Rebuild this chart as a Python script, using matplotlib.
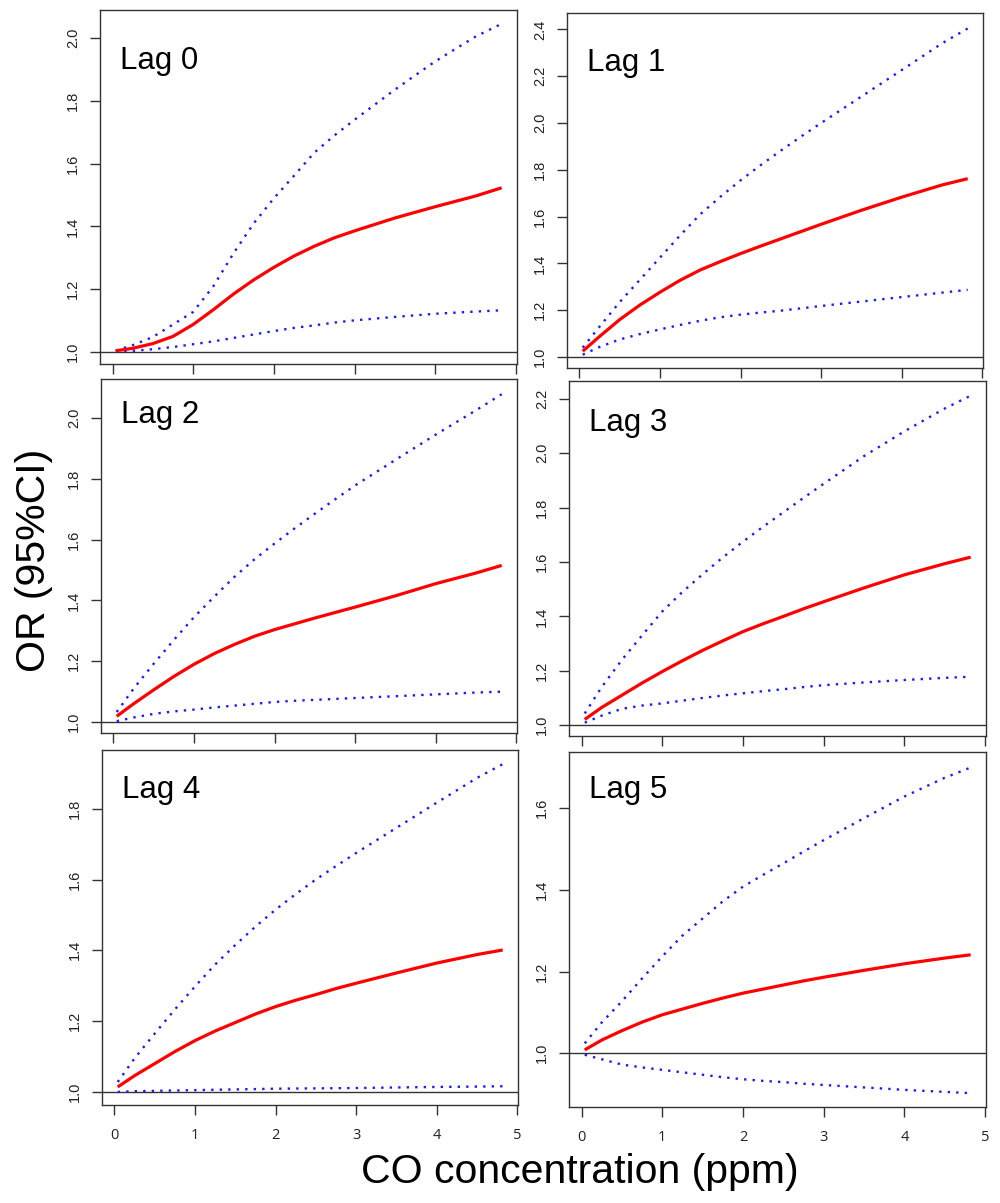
import matplotlib
matplotlib.use("Agg")
import matplotlib.pyplot as plt
from matplotlib.ticker import FormatStrFormatter

co = [0.04, 0.25, 0.5, 0.75, 1.0, 1.25, 1.5, 1.75, 2.0, 2.25, 2.5, 2.75, 3.0, 3.5, 4.0, 4.5, 4.82]

lags = ["Lag 0", "Lag 1", "Lag 2", "Lag 3", "Lag 4", "Lag 5"]

# odds ratio, upper and lower 95% CI for each lag
or_lag0 = [1.004, 1.012, 1.027, 1.050, 1.088, 1.135, 1.185, 1.230, 1.270, 1.306, 1.337, 1.364, 1.386, 1.427, 1.463, 1.497, 1.523]
hi_lag0 = [1.005, 1.022, 1.048, 1.088, 1.128, 1.210, 1.315, 1.410, 1.490, 1.562, 1.635, 1.690, 1.740, 1.836, 1.926, 2.005, 2.045]
lo_lag0 = [1.002, 1.004, 1.009, 1.016, 1.025, 1.034, 1.045, 1.056, 1.067, 1.077, 1.085, 1.094, 1.101, 1.112, 1.122, 1.129, 1.133]

or_lag1 = [1.025, 1.088, 1.160, 1.222, 1.277, 1.328, 1.372, 1.408, 1.442, 1.474, 1.505, 1.536, 1.567, 1.627, 1.683, 1.735, 1.762]
hi_lag1 = [1.040, 1.130, 1.235, 1.330, 1.425, 1.520, 1.610, 1.685, 1.755, 1.820, 1.882, 1.942, 2.000, 2.113, 2.226, 2.340, 2.404]
lo_lag1 = [1.010, 1.043, 1.075, 1.098, 1.118, 1.137, 1.155, 1.170, 1.181, 1.190, 1.198, 1.208, 1.218, 1.237, 1.256, 1.275, 1.287]

or_lag2 = [1.019, 1.060, 1.106, 1.150, 1.190, 1.225, 1.255, 1.282, 1.304, 1.323, 1.342, 1.360, 1.378, 1.415, 1.455, 1.490, 1.515]
hi_lag2 = [1.033, 1.110, 1.192, 1.270, 1.345, 1.412, 1.477, 1.535, 1.587, 1.637, 1.685, 1.732, 1.778, 1.862, 1.945, 2.025, 2.078]
lo_lag2 = [1.003, 1.015, 1.027, 1.035, 1.041, 1.048, 1.054, 1.060, 1.066, 1.070, 1.073, 1.076, 1.079, 1.085, 1.091, 1.097, 1.100]

or_lag3 = [1.021, 1.065, 1.110, 1.155, 1.197, 1.237, 1.275, 1.310, 1.344, 1.373, 1.400, 1.428, 1.454, 1.505, 1.553, 1.594, 1.618]
hi_lag3 = [1.043, 1.140, 1.240, 1.330, 1.418, 1.490, 1.555, 1.617, 1.675, 1.730, 1.783, 1.836, 1.888, 1.990, 2.081, 2.165, 2.212]
lo_lag3 = [1.009, 1.035, 1.060, 1.072, 1.080, 1.090, 1.100, 1.109, 1.117, 1.125, 1.132, 1.140, 1.147, 1.157, 1.166, 1.174, 1.178]

or_lag4 = [1.014, 1.046, 1.080, 1.114, 1.145, 1.172, 1.196, 1.220, 1.241, 1.259, 1.275, 1.292, 1.307, 1.336, 1.364, 1.388, 1.401]
hi_lag4 = [1.028, 1.095, 1.165, 1.233, 1.298, 1.360, 1.415, 1.467, 1.515, 1.559, 1.600, 1.638, 1.675, 1.746, 1.817, 1.887, 1.926]
lo_lag4 = [1.000, 1.002, 1.003, 1.004, 1.005, 1.006, 1.007, 1.008, 1.009, 1.0095, 1.010, 1.0105, 1.011, 1.0125, 1.014, 1.015, 1.016]

or_lag5 = [1.008, 1.032, 1.055, 1.076, 1.094, 1.108, 1.122, 1.135, 1.147, 1.157, 1.167, 1.177, 1.186, 1.203, 1.219, 1.233, 1.241]
hi_lag5 = [1.024, 1.075, 1.127, 1.183, 1.237, 1.288, 1.330, 1.372, 1.408, 1.437, 1.465, 1.494, 1.522, 1.576, 1.629, 1.675, 1.700]
lo_lag5 = [0.996, 0.985, 0.972, 0.965, 0.959, 0.953, 0.947, 0.941, 0.936, 0.932, 0.929, 0.925, 0.922, 0.916, 0.910, 0.905, 0.902]

x_ticks = [0, 1, 2, 3, 4, 5]
y_ticks = [
    [1.0, 1.2, 1.4, 1.6, 1.8, 2.0],
    [1.0, 1.2, 1.4, 1.6, 1.8, 2.0, 2.2, 2.4],
    [1.0, 1.2, 1.4, 1.6, 1.8, 2.0],
    [1.0, 1.2, 1.4, 1.6, 1.8, 2.0, 2.2],
    [1.0, 1.2, 1.4, 1.6, 1.8],
    [1.0, 1.2, 1.4, 1.6],
]
y_limits = [(0.962, 2.089), (0.953, 2.47), (0.964, 2.128),
            (0.960, 2.266), (0.963, 1.966), (0.868, 1.738)]

series = [
    (or_lag0, hi_lag0, lo_lag0),
    (or_lag1, hi_lag1, lo_lag1),
    (or_lag2, hi_lag2, lo_lag2),
    (or_lag3, hi_lag3, lo_lag3),
    (or_lag4, hi_lag4, lo_lag4),
    (or_lag5, hi_lag5, lo_lag5),
]

# panel boxes in pixels: left, right, top, bottom; then label baseline offset from top
W, H = 1000, 1203
boxes = [
    (100, 517, 10, 364, 59),
    (567, 983, 13, 368, 58),
    (101, 517, 379, 733, 44),
    (569, 986, 381, 736, 50),
    (102, 518, 750, 1105, 48),
    (569, 986, 752, 1107, 46),
]

plt.rcParams["font.family"] = ["Liberation Sans", "DejaVu Sans"]
fig = plt.figure(figsize=(W / 100, H / 100), dpi=100)

edge = "#333333"
for i, (name, (est, hi, lo)) in enumerate(zip(lags, series)):
    l, r, t, b, off = boxes[i]
    ax = fig.add_axes([l / W, 1 - b / H, (r - l) / W, (b - t) / H])
    ax.axhline(1.0, color=edge, lw=1.0, zorder=1)
    ax.plot(co, hi, color="#1a1aff", lw=1.7, linestyle=(0, (1, 2.6)), zorder=2)
    ax.plot(co, lo, color="#1a1aff", lw=1.7, linestyle=(0, (1, 2.6)), zorder=2)
    ax.plot(co, est, color="#ff0000", lw=2.3, zorder=3, solid_capstyle="butt")

    ax.set_xlim(-0.155, 5.01)
    ax.set_ylim(*y_limits[i])
    ax.set_xticks(x_ticks)
    ax.set_yticks(y_ticks[i])
    ax.yaxis.set_major_formatter(FormatStrFormatter("%.1f"))
    for sp in ax.spines.values():
        sp.set_color(edge)
        sp.set_linewidth(1.0)
    ax.tick_params(direction="out", length=7.5, width=1.0, color=edge)
    ax.tick_params(axis="y", labelsize=10.5, labelcolor="#222222", pad=7)
    for lab in ax.get_yticklabels():
        lab.set_rotation(90)
        lab.set_va("center")
    if i >= 4:
        ax.tick_params(axis="x", labelsize=10.5, labelcolor="#222222", pad=9)
        for lab in ax.get_xticklabels():
            lab.set_family(["Open Sans", "DejaVu Sans"])
    else:
        ax.tick_params(axis="x", labelbottom=False)

    ax.text(20 / (r - l), 1 - off / (b - t), name, transform=ax.transAxes,
            fontsize=22.5, ha="left", va="baseline", color="black")

fig.text(579.5 / W, 1 - 1183 / H, "CO concentration (ppm)", fontsize=29.5,
         ha="center", va="baseline")
fig.text(34 / W, 1 - 560 / H, "OR (95%CI)", fontsize=29.5, rotation=90,
         ha="center", va="center")

fig.savefig("out.png", dpi=100)
